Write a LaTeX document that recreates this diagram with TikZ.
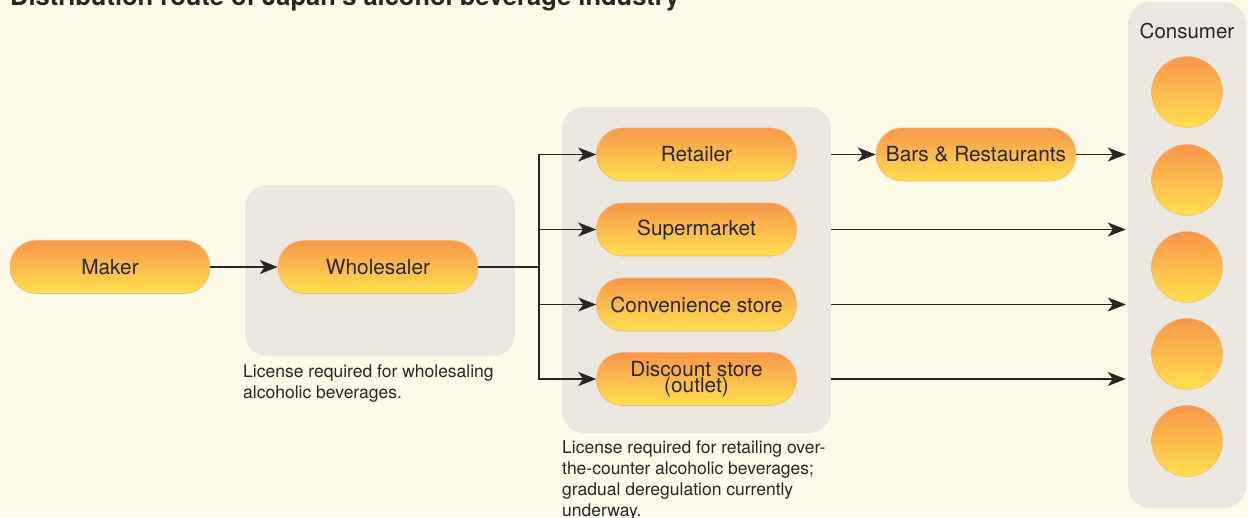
\documentclass[tikz,border=0pt]{standalone}
\usepackage{fontspec}
\setmainfont{TeX Gyre Heros}
\usetikzlibrary{arrows.meta}
\definecolor{bgc}{HTML}{FEFCE9}
\definecolor{panelc}{HTML}{EBE8E1}
\definecolor{otop}{HTML}{F7964A}
\definecolor{ybot}{HTML}{FFE04F}
\definecolor{edgec}{HTML}{F9B27A}
\definecolor{txt}{HTML}{2A2522}
\tikzset{
  box/.style={rounded corners=26pt, minimum width=200pt, minimum height=53pt,
    top color=otop, bottom color=ybot, draw=edgec, line width=0.6pt,
    text=txt, inner sep=0pt, font=\fontsize{20.8}{15}\selectfont, align=center},
  panel/.style={rounded corners=22pt, fill=panelc, draw=none, inner sep=0pt},
  dot/.style={circle, minimum size=71pt, inner sep=0pt, top color=otop, bottom color=ybot, draw=edgec, line width=0.4pt},
  note/.style={anchor=base west, align=left, inner sep=0pt, text=txt, font=\fontsize{17.5}{21}\selectfont},
  conn/.style={draw=txt, line width=1.4pt},
  arr/.style={conn, -{Stealth[length=18pt,width=14pt,inset=5pt]}}
}
\begin{document}
\begin{tikzpicture}[x=1pt,y=-1pt]
\useasboundingbox (0,0) rectangle (1248,517);
\clip (0,0) rectangle (1248,517);
\fill[bgc] (0,0) rectangle (1248,517);
% title
\node[anchor=base west, inner sep=0pt, text=txt, font=\fontsize{25.5}{25.5}\selectfont\bfseries] (title) at (10,5) {Distribution route of Japan's alcohol beverage industry};
% panels
\node[panel, minimum width=270pt, minimum height=171pt] (wpanel) at (380,270.5) {};
\node[panel, minimum width=269pt, minimum height=326pt] (rpanel) at (696.5,270) {};
\node[panel, minimum width=118pt, minimum height=506pt] (cpanel) at (1187,255) {};
% nodes
\node[box] (maker) at (110,267) {Maker};
\node[box] (whole) at (378,267) {Wholesaler};
\node[box] (retail) at (696.5,154.5) {Retailer};
\node[box] (super) at (696.5,229.5) {Supermarket};
\node[box] (conv) at (696.5,304.5) {Convenience store};
\node[box] (disc) at (696.5,379) {Discount store\\(outlet)};
\node[box] (bars) at (976,154.5) {Bars \& Restaurants};
\node[anchor=base, inner sep=0pt, text=txt, font=\fontsize{20.5}{20.5}\selectfont] (cons) at (1187,38) {Consumer};
\node[dot] (c1) at (1187,92) {};
\node[dot] (c2) at (1187,180) {};
\node[dot] (c3) at (1187,267) {};
\node[dot] (c4) at (1187,354) {};
\node[dot] (c5) at (1187,441) {};
% notes (base = last line)
\node[note] (n1) at (243,398) {License required for wholesaling\\alcoholic beverages.};
\node[note] (n2) at (562,516) {License required for retailing over-\\the-counter alcoholic beverages;\\gradual deregulation currently\\underway.};
% connectors
\coordinate (split) at (539,267);
\draw[arr] (maker.east) -- (whole.west);
\draw[conn] (whole.east) -- (split);
\draw[arr] (split) |- (retail.west);
\draw[arr] (split) |- (super.west);
\draw[arr] (split) |- (conv.west);
\draw[arr] (split) |- (disc.west);
\draw[arr] (retail.east -| rpanel.east) -- (bars.west);
\draw[arr] (bars.east) -- ([xshift=-2pt]bars.east -| cpanel.west);
\draw[arr] (super.east -| rpanel.east) -- ([xshift=-2pt]super.east -| cpanel.west);
\draw[arr] (conv.east -| rpanel.east) -- ([xshift=-2pt]conv.east -| cpanel.west);
\draw[arr] (disc.east -| rpanel.east) -- ([xshift=-2pt]disc.east -| cpanel.west);
\end{tikzpicture}
\end{document}
